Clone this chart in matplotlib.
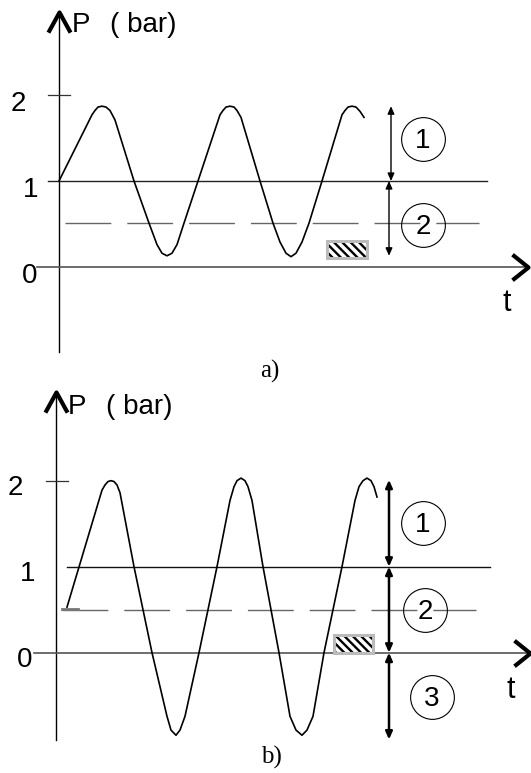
import numpy as np
import matplotlib
matplotlib.use('Agg')
import matplotlib.pyplot as plt
from matplotlib.path import Path
from matplotlib.patches import Rectangle

# pressure traces: t (arbitrary), P (bar)
t_a = [0.00, 0.33, 0.36, 0.39, 0.43, 0.47, 0.51, 0.56, 0.75, 0.90, 0.98, 1.03, 1.08,
       1.13, 1.18, 1.25, 1.39, 1.61, 1.64, 1.67, 1.71, 1.75, 1.78, 1.82, 2.01, 2.14,
       2.21, 2.27, 2.32, 2.37, 2.43, 2.50, 2.63, 2.83, 2.86, 2.89, 2.93, 2.97, 3.01, 3.05]
p_a = [1.00, 1.77, 1.82, 1.86, 1.87, 1.86, 1.82, 1.71, 1.00, 0.51, 0.26, 0.16, 0.13,
       0.16, 0.26, 0.51, 1.00, 1.77, 1.82, 1.86, 1.87, 1.86, 1.82, 1.74, 1.00, 0.51,
       0.29, 0.16, 0.12, 0.16, 0.29, 0.51, 1.00, 1.77, 1.82, 1.86, 1.87, 1.86, 1.81, 1.74]

t_b = [0.11, 0.46, 0.49, 0.52, 0.55, 0.58, 0.61, 0.64, 0.78, 0.87, 0.96, 1.11, 1.15,
       1.20, 1.24, 1.29, 1.43, 1.52, 1.61, 1.74, 1.78, 1.81, 1.85, 1.89, 1.92, 1.96,
       2.07, 2.15, 2.23, 2.34, 2.40, 2.46, 2.51, 2.57, 2.68, 2.77, 2.86, 2.99, 3.03,
       3.07, 3.11, 3.15, 3.18, 3.21]
p_b = [0.53, 1.89, 1.95, 1.99, 2.00, 1.99, 1.95, 1.86, 1.00, 0.50, 0.00, -0.74, -0.90,
       -0.96, -0.90, -0.74, 0.00, 0.50, 1.00, 1.77, 1.93, 2.00, 2.03, 2.00, 1.93, 1.77,
       1.00, 0.50, 0.00, -0.74, -0.90, -0.96, -0.90, -0.74, 0.00, 0.50, 1.00, 1.77, 1.93,
       2.00, 2.03, 2.00, 1.93, 1.81]

p_atm = 1.0
p_vap = 0.5
tick_labels = ['0', '1', '2']
tick_vals = [0, 1, 2]

sans = ['Liberation Sans', 'DejaVu Sans']
serif = ['Liberation Serif', 'DejaVu Serif']
plt.rcParams['hatch.linewidth'] = 1.7

# chevron arrow heads for the axes
head_right = Path([(-1, 0.8), (0, 0), (-1, -0.8)], [Path.MOVETO, Path.LINETO, Path.LINETO])
head_up = Path([(-0.55, -1), (0, 0), (0.55, -1)], [Path.MOVETO, Path.LINETO, Path.LINETO])

fig = plt.figure(figsize=(5.31, 7.73), dpi=100)
ax_a = fig.add_axes([0, 0.5, 1, 0.5])
ax_b = fig.add_axes([0, 0, 1, 0.5])


def frame(ax, ybot, ytop, xend, tick_x, lab_x, lab_y, plab, tlab):
    ax.plot([0, 0], [ybot, ytop], color='black', lw=1.0)
    ax.plot([0], [ytop], marker=head_up, ms=29, mfc='none', mec='black', mew=3.0)
    ax.plot([-0.22, xend], [0, 0], color='#555555', lw=1.2)
    ax.plot([xend], [0], marker=head_right, ms=23, mfc='none', mec='black', mew=3.0)
    ax.plot(tick_x, [2, 2], color='#333333', lw=0.9)
    for v, s, lx in zip(tick_vals, tick_labels, lab_x):
        ax.text(lx, v + lab_y, s, fontsize=20, family=sans, ha='center', va='center')
    ax.text(plab[0], plab[1], 'P', fontsize=20, family=sans, ha='left', va='center')
    ax.text(plab[0] + 0.38, plab[1], '( bar)', fontsize=20, family=sans, ha='left', va='center')
    ax.text(tlab[0], tlab[1], 't', fontsize=22, family=sans, ha='center', va='center')


def circled(ax, x, y, s):
    ax.plot([x], [y], marker='o', ms=31.5, mfc='none', mec='black', mew=0.8)
    ax.text(x, y - 0.025, s, fontsize=20, family=sans, ha='center', va='center')


def dim(ax, x, y0, y1, lw):
    ax.annotate('', xy=(x, y1), xytext=(x, y0),
                arrowprops=dict(arrowstyle='<|-|>,head_length=0.45,head_width=0.2',
                                lw=lw, color='black', shrinkA=0, shrinkB=0))


def hatch_box(ax, x, y, w, h):
    ax.add_patch(Rectangle((x, y), w, h, facecolor='white', edgecolor='none', zorder=3))
    ax.add_patch(Rectangle((x, y), w, h, facecolor='none', edgecolor='black', lw=0,
                           hatch='\\\\\\\\', zorder=4))
    ax.add_patch(Rectangle((x, y), w, h, facecolor='none', edgecolor='#bbbbbb', lw=2.2,
                           zorder=5))


# ---- panel a
ax = ax_a
frame(ax, -0.99, 2.965, 4.69, [-0.11, 0.11], [-0.29, -0.28, -0.41], -0.1,
      (0.13, 2.81), (4.48, -0.42))
ax.plot([-0.11, 4.28], [p_atm, p_atm], color='#222222', lw=1.0)
ax.plot([0.06, 4.20], [0.51, 0.51], color='#666666', lw=1.0, dashes=(33, 11.5))
ax.plot(t_a, p_a, color='black', lw=1.2)
dim(ax, 3.32, 1.0, 1.87, 1.0)
dim(ax, 3.30, 0.13, 1.0, 1.0)
circled(ax, 3.64, 1.49, '1')
circled(ax, 3.64, 0.49, '2')
hatch_box(ax, 2.68, 0.105, 0.40, 0.195)
ax.text(2.11, -1.22, 'a)', fontsize=18, family=serif, ha='center', va='center')
ax.set_xlim(-0.59, 4.72)
ax.set_ylim(-1.39, 3.105)
ax.axis('off')

# ---- panel b
ax = ax_b
frame(ax, -1.015, 3.03, 4.74, [-0.10, 0.12], [-0.31, -0.28, -0.41], -0.08,
      (0.12, 2.86), (4.55, -0.43))
ax.plot([0.11, 4.34], [p_atm, p_atm], color='#111111', lw=1.0)
ax.plot([0.06, 4.20], [p_vap, p_vap], color='#666666', lw=1.0, dashes=(33, 11.5))
ax.plot([0.06, 0.22], [p_vap + 0.01, p_vap + 0.01], color='#777777', lw=2.0)
ax.plot(t_b, p_b, color='black', lw=1.2)
dim(ax, 3.33, 1.0, 2.01, 1.8)
dim(ax, 3.33, 0.0, 1.0, 1.8)
dim(ax, 3.33, -1.01, 0.0, 1.8)
circled(ax, 3.67, 1.51, '1')
circled(ax, 3.69, 0.50, '2')
circled(ax, 3.76, -0.51, '3')
hatch_box(ax, 2.78, 0.0, 0.39, 0.21)
ax.text(2.15, -1.22, 'b)', fontsize=18, family=serif, ha='center', va='center')
ax.set_xlim(-0.56, 4.75)
ax.set_ylim(-1.399, 3.095)
ax.axis('off')

fig.savefig('out.png', dpi=100)
